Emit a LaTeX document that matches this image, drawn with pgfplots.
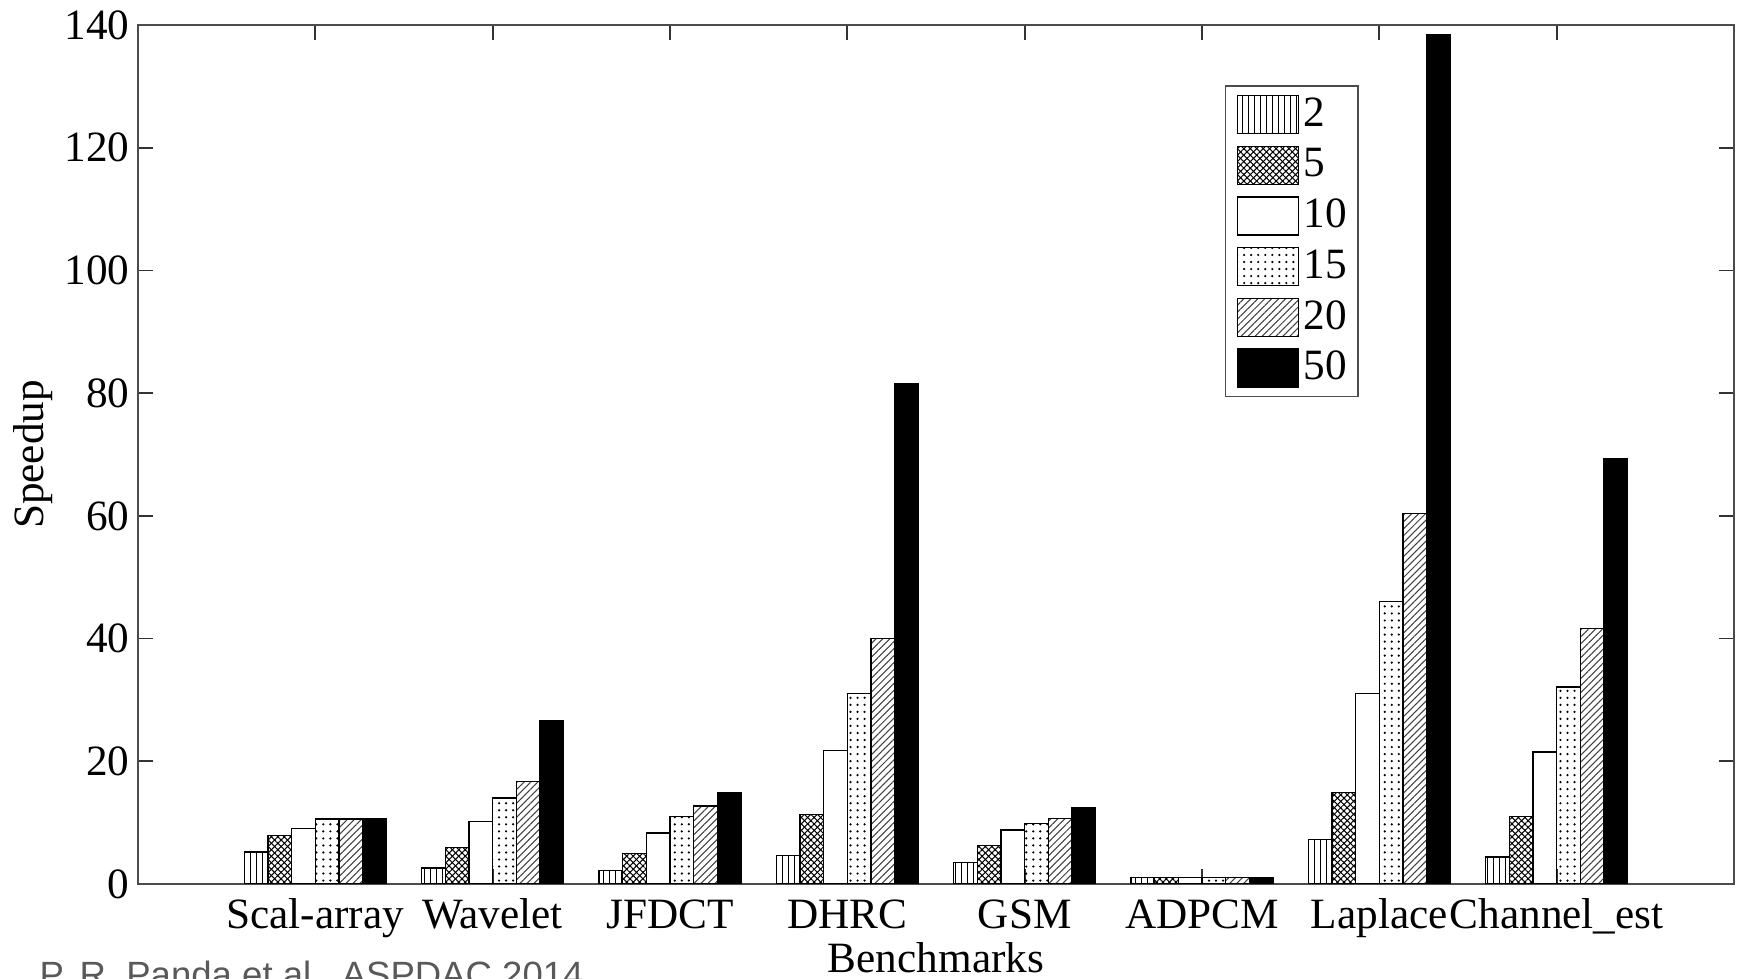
\documentclass[border=0pt]{standalone}
\usepackage{fontspec}
\setmainfont{Liberation Serif}
\newfontfamily\wmfont{Liberation Sans}
\usepackage{pgfplots}
\pgfplotsset{compat=1.18}
\usetikzlibrary{patterns,patterns.meta}

\begin{document}
\begin{tikzpicture}
\begin{axis}[
  at={(1.38cm,0.95cm)}, anchor=south west,
  scale only axis, width=15.96cm, height=8.59cm,
  ybar=0pt, bar width=0.2364cm,
  legend image code/.code={\draw[#1] (0cm,-0.19cm) rectangle (0.61cm,0.19cm);},
  xmin=0, xmax=9, ymin=0, ymax=140,
  xtick={1,...,8},
  xticklabels={Scal-array, Wavelet, JFDCT, DHRC, GSM, ADPCM, Laplace, Channel\_est},
  ytick={0,20,...,140},
  tick align=inside, major tick length=1.5mm,
  axis line style={black!70, line width=0.5pt},
  tick style={black!80, line width=0.5pt},
  font=\fontsize{12.3}{14}\selectfont,
  /pgf/number format/assume math mode=true,
  xticklabel style={anchor=base, yshift=-4.5mm},
  yticklabel style={xshift=0.4mm},
  xlabel={Benchmarks}, ylabel={Speedup},
  xlabel style={at={(axis description cs:0.5,0)}, anchor=base, yshift=-0.89cm},
  ylabel style={at={(axis description cs:-0.0658,0.5)}, anchor=center},
  legend style={at={(0.681,0.930)}, anchor=north west, draw=black!70,
    inner xsep=1.1mm, inner ysep=0.9mm, row sep=1.15mm,
    nodes={inner sep=0pt}, /tikz/every odd column/.append style={column sep=0.5mm}},
  legend cell align=left,
]
\addplot[draw=black, line width=0.35pt, pattern={Lines[angle=90,distance=1.7pt,line width=0.3pt]}]
  coordinates {(1,5.2) (2,2.6) (3,2.2) (4,4.7) (5,3.5) (6,1.1) (7,7.2) (8,4.4)};
\addplot[draw=black, line width=0.35pt, pattern={Lines[angle=45,distance=1.3pt,line width=0.3pt]},
  postaction={pattern={Lines[angle=-45,distance=1.3pt,line width=0.3pt]}}]
  coordinates {(1,7.9) (2,5.9) (3,5.0) (4,11.3) (5,6.3) (6,1.1) (7,14.9) (8,11.0)};
\addplot[draw=black, line width=0.35pt, fill=white]
  coordinates {(1,9.0) (2,10.2) (3,8.3) (4,21.8) (5,8.8) (6,1.1) (7,31.1) (8,21.5)};
\addplot[draw=black, line width=0.35pt, pattern={Dots[distance=2pt,radius=0.35pt]}]
  coordinates {(1,10.6) (2,14.0) (3,11.0) (4,31.0) (5,9.9) (6,1.1) (7,46.0) (8,32.1)};
\addplot[draw=black, line width=0.35pt, pattern color=black!75, pattern={Lines[angle=45,distance=1.4pt,line width=0.3pt]}]
  coordinates {(1,10.6) (2,16.7) (3,12.7) (4,40.0) (5,10.7) (6,1.1) (7,60.4) (8,41.7)};
\addplot[draw=black, line width=0.35pt, fill=black]
  coordinates {(1,10.6) (2,26.6) (3,14.9) (4,81.6) (5,12.4) (6,1.1) (7,138.5) (8,69.4)};
\legend{2, 5, 10, 15, 20, 50}
\end{axis}
\node[anchor=base west, inner sep=0pt, text=black!65,
  font=\wmfont\fontsize{10.4}{12}\selectfont] at (0.39cm,-0.09cm) {P. R. Panda et al., ASPDAC 2014};
\pgfresetboundingbox
\path[use as bounding box] (0,0) rectangle (17.42cm,9.79cm);
\end{tikzpicture}
\end{document}
